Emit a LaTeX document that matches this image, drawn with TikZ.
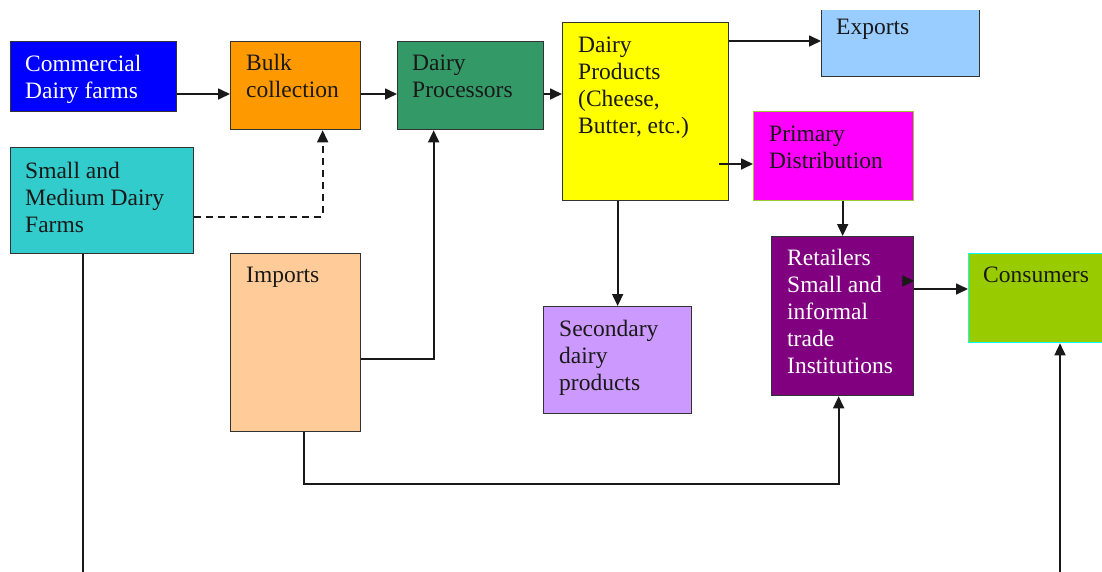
\documentclass[tikz,border=0pt]{standalone}
\usepackage{fontspec}
\setmainfont{Liberation Serif}
\newfontfamily\tnr{Liberation Serif}
\usetikzlibrary{arrows.meta}
\definecolor{cblue}{HTML}{0000FF}
\definecolor{corange}{HTML}{FF9900}
\definecolor{cteal}{HTML}{33CCCC}
\definecolor{csea}{HTML}{339966}
\definecolor{cyel}{HTML}{FFFF00}
\definecolor{cexp}{HTML}{99CCFF}
\definecolor{cmag}{HTML}{FF00FF}
\definecolor{cpur}{HTML}{800080}
\definecolor{cgreen}{HTML}{99CC00}
\definecolor{cpeach}{HTML}{FFCC99}
\definecolor{clav}{HTML}{CC99FF}
\definecolor{bord}{HTML}{333333}
\definecolor{limeb}{HTML}{99CC33}
\definecolor{cyanb}{HTML}{00FFFF}
\begin{document}
\begin{tikzpicture}[x=1pt,y=1pt,
  box/.style={draw=bord, line width=1.3pt, inner sep=0pt, anchor=north west},
  txt/.style={anchor=north west, inner sep=0pt, align=left, text=black!90,
    font=\tnr\fontsize{23.5}{27}\selectfont},
  conn/.style={draw=black!90, line width=1.7pt},
  arr/.style={conn, -{Triangle[length=12pt,width=11pt]}},
  dsh/.style={conn, dash pattern=on 7pt off 5pt}]
\useasboundingbox (0,0) rectangle (1102,-571);
\clip (0,-10) rectangle (1102,-571);
% boxes
\node[box, fill=cblue, minimum width=166, minimum height=70] (cdf) at (10,-41) {};
\node[box, fill=corange, minimum width=130, minimum height=88] (bulk) at (230,-41) {};
\node[box, fill=cteal, minimum width=183, minimum height=106] (smf) at (10,-147) {};
\node[box, fill=csea, minimum width=146, minimum height=88] (proc) at (397,-41) {};
\node[box, fill=cyel, minimum width=166, minimum height=178] (prod) at (562,-22) {};
\node[box, fill=cexp, minimum width=158, minimum height=72] (exp) at (821,-4) {};
\node[box, fill=cmag, draw=limeb, minimum width=160, minimum height=89] (prim) at (753,-111) {};
\node[box, fill=cpur, minimum width=142, minimum height=159] (ret) at (771,-236) {};
\node[box, fill=cgreen, draw=cyanb, minimum width=140, minimum height=89] (cons) at (968,-253) {};
\node[box, fill=cpeach, minimum width=130, minimum height=178] (imp) at (230,-253) {};
\node[box, fill=clav, minimum width=148, minimum height=107] (sec) at (543,-306) {};
% texts
\node[txt, text=white] (cdft) at ([shift={(15,-14)}]cdf.north west) {Commercial\\Dairy farms};
\node[txt] (bulkt) at ([shift={(16,-13)}]bulk.north west) {Bulk\\collection};
\node[txt] (smft) at ([shift={(15,-15)}]smf.north west) {Small and\\Medium Dairy\\Farms};
\node[txt] (proct) at ([shift={(15,-14)}]proc.north west) {Dairy\\Processors};
\node[txt] (prodt) at ([shift={(16,-15)}]prod.north west) {Dairy\\Products\\(Cheese,\\Butter, etc.)};
\node[txt] (expt) at ([shift={(15,-15)}]exp.north west) {Exports};
\node[txt] (primt) at ([shift={(16,-15)}]prim.north west) {Primary\\Distribution};
\node[txt, text=white] (rett) at ([shift={(16,-13)}]ret.north west) {Retailers\\Small and\\informal\\trade\\Institutions};
\node[txt] (const) at ([shift={(15,-14)}]cons.north west) {Consumers};
\node[txt] (impt) at ([shift={(16,-14)}]imp.north west) {Imports};
\node[txt] (sect) at ([shift={(16,-14)}]sec.north west) {Secondary\\dairy\\products};
% free ends
\coordinate (farend) at (83,-580);
\coordinate (consin) at (1060,-580);
% connectors
\draw[arr] (cdf.east |- 0,-94) -- (bulk.west |- 0,-94);
\draw[arr] (bulk.east |- 0,-94) -- (proc.west |- 0,-94);
\draw[arr] (proc.east |- 0,-94) -- (prod.west |- 0,-94);
\draw[arr] (prod.east |- 0,-41) -- (exp.west |- 0,-41);
\draw[arr] ([xshift=-10]prod.east |- 0,-164) -- (prim.west |- 0,-164);
\draw[arr] (sec.north |- prod.south) -- (sec.north);
\draw[dsh, -{Triangle[length=12pt,width=11pt]}] (smf.east |- 0,-217) -| ([xshift=27]bulk.south);
\draw[arr] (imp.east |- 0,-359) -| ([xshift=-37]proc.south);
\draw[arr] (ret.north |- prim.south) -- (ret.north);
\draw[arr] (ret.east |- 0,-289) -- (cons.west |- 0,-289);
\draw[arr] ([xshift=-12]ret.east |- 0,-281) -- (ret.east |- 0,-281);
\draw[arr] ([xshift=8]imp.south) -- ++(0,-52) -| ([xshift=-4]ret.south);
\draw[conn] (smf.south -| farend) -- (farend);
\draw[arr] (consin) -- (cons.south -| consin);
\end{tikzpicture}
\end{document}
